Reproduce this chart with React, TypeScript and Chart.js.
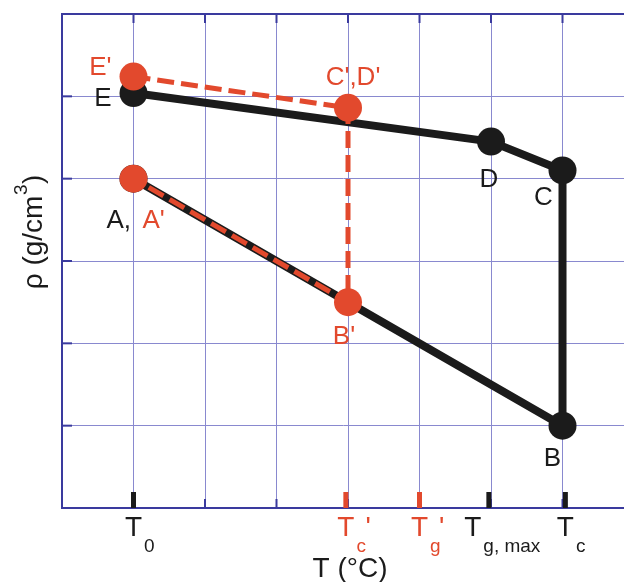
import React, { useEffect, useRef } from "react";
import { Chart, registerables } from "chart.js";

Chart.register(...registerables);

// ---- data ----
const pathT = [0, 5, 6, 6, 0];
const pathRho = [5.04, 4.45, 4.1, 1.0, 4.0];
const pathLabels = ["E", "D", "C", "B", "A,"];

const primeT = [0, 3, 3, 0];
const primeRho = [5.24, 4.86, 2.5, 4.0];
const primeLabels = ["E'", "C',D'", "B'", "A'"];

const tickValues = [0, 2.97, 4.0, 4.97, 6.04];
const tickSubs = ["0", "c", "g", "g, max", "c"];
const tickPrimes = ["", "'", "'", "", ""];
const tickIsPrime = [false, true, true, false, false];

const xTitle = "T (°C)";
const yTitleMain = "ρ (g/cm";
const yTitleSup = "3";
const yTitleEnd = ")";

// ---- style ----
const RED = "#e2492d";
const BLACK = "#1b1b1b";
const GRID = "#8989cf";
const BORDER = "#3a3a9e";
const FONT = "'Liberation Sans', Arial, Helvetica, sans-serif";

const labelStyle: Record<string, { dx: number; dy: number; align: CanvasTextAlign }> = {
  "E": { dx: -22, dy: 4, align: "right" },
  "D": { dx: -2, dy: 36, align: "center" },
  "C": { dx: -19, dy: 25, align: "center" },
  "B": { dx: -10, dy: 31, align: "center" },
  "A,": { dx: -27, dy: 40, align: "left" },
  "E'": { dx: -22, dy: -11, align: "right" },
  "C',D'": { dx: 5, dy: -32, align: "center" },
  "B'": { dx: -4, dy: 33, align: "center" },
  "A'": { dx: 9, dy: 40, align: "left" },
};

function capText(
  ctx: CanvasRenderingContext2D,
  text: string,
  x: number,
  capCenterY: number,
  align: CanvasTextAlign,
  color: string,
  size: number
) {
  ctx.font = `${size}px ${FONT}`;
  ctx.fillStyle = color;
  ctx.textAlign = align;
  ctx.textBaseline = "alphabetic";
  ctx.fillText(text, x, capCenterY + 0.358 * size);
}

const decorPlugin = {
  id: "decor",
  beforeDatasetsDraw(chart: any) {
    const ctx: CanvasRenderingContext2D = chart.ctx;
    const { left, top, bottom } = chart.chartArea;
    const xs = chart.scales.x;
    const ys = chart.scales.y;
    ctx.save();
    ctx.strokeStyle = BORDER;
    ctx.lineWidth = 2;
    // minor inner ticks
    for (let v = 0; v <= 6; v++) {
      const px = xs.getPixelForValue(v);
      ctx.beginPath();
      ctx.moveTo(px, top);
      ctx.lineTo(px, top + 9);
      ctx.moveTo(px, bottom);
      ctx.lineTo(px, bottom - 9);
      ctx.stroke();
    }
    for (let v = 1; v <= 5; v++) {
      const py = ys.getPixelForValue(v);
      ctx.beginPath();
      ctx.moveTo(left, py);
      ctx.lineTo(left + 10, py);
      ctx.stroke();
    }
    // major ticks
    ctx.lineWidth = 5;
    tickValues.forEach((v, i) => {
      const px = xs.getPixelForValue(v);
      ctx.strokeStyle = tickIsPrime[i] ? RED : BLACK;
      ctx.beginPath();
      ctx.moveTo(px, bottom);
      ctx.lineTo(px, bottom - 16);
      ctx.stroke();
    });
    ctx.restore();
  },
  afterDatasetsDraw(chart: any) {
    const ctx: CanvasRenderingContext2D = chart.ctx;
    const { bottom } = chart.chartArea;
    const xs = chart.scales.x;
    const ys = chart.scales.y;
    ctx.save();

    // point labels
    const drawLabels = (ts: number[], rs: number[], labels: string[], color: string) => {
      labels.forEach((lab, i) => {
        if (!lab) return;
        const st = labelStyle[lab];
        const px = xs.getPixelForValue(ts[i]);
        const py = ys.getPixelForValue(rs[i]);
        capText(ctx, lab, px + st.dx, py + st.dy, st.align, color, 26);
      });
    };
    drawLabels(pathT, pathRho, pathLabels, BLACK);
    drawLabels(primeT, primeRho, primeLabels, RED);

    // x tick labels
    const mainSize = 28;
    const subSize = 19;
    const baseY = bottom + 28;
    tickValues.forEach((v, i) => {
      const color = tickIsPrime[i] ? RED : BLACK;
      const px = xs.getPixelForValue(v);
      ctx.font = `${subSize}px ${FONT}`;
      const subW = ctx.measureText(tickSubs[i]).width;
      const shift = subW > 20 ? -(subW - 20) / 2.3 : 0;
      ctx.font = `${mainSize}px ${FONT}`;
      const tW = ctx.measureText("T").width;
      const cx = px + shift;
      ctx.fillStyle = color;
      ctx.textAlign = "center";
      ctx.textBaseline = "alphabetic";
      ctx.fillText("T", cx, baseY);
      if (tickPrimes[i]) {
        ctx.textAlign = "left";
        ctx.fillText(tickPrimes[i], cx + tW / 2 + 11, baseY);
      }
      ctx.font = `${subSize}px ${FONT}`;
      ctx.textAlign = "left";
      ctx.fillText(tickSubs[i], cx + tW / 2 + 2, baseY + 16);
    });

    // x title
    ctx.font = `28px ${FONT}`;
    ctx.fillStyle = BLACK;
    ctx.textAlign = "center";
    ctx.fillText(xTitle, 350, bottom + 69);

    // y title (rotated)
    ctx.save();
    ctx.translate(42, 232);
    ctx.rotate(-Math.PI / 2);
    ctx.font = `28px ${FONT}`;
    const w1 = ctx.measureText(yTitleMain).width;
    const w3 = ctx.measureText(yTitleEnd).width;
    ctx.font = `19px ${FONT}`;
    const w2 = ctx.measureText(yTitleSup).width;
    let x0 = -(w1 + w2 + w3 + 1) / 2;
    ctx.textAlign = "left";
    ctx.fillStyle = BLACK;
    ctx.font = `28px ${FONT}`;
    ctx.fillText(yTitleMain, x0, 0);
    x0 += w1 + 0.5;
    ctx.font = `19px ${FONT}`;
    ctx.fillText(yTitleSup, x0, -15);
    x0 += w2 + 0.5;
    ctx.font = `28px ${FONT}`;
    ctx.fillText(yTitleEnd, x0, 0);
    ctx.restore();

    ctx.restore();
  },
};

export default function App() {
  const ref = useRef<HTMLCanvasElement | null>(null);
  useEffect(() => {
    if (!ref.current) return;
    const chart = new Chart(ref.current, {
      type: "line",
      data: {
        datasets: [
          {
            label: "primed",
            data: primeT.map((t, i) => ({ x: t, y: primeRho[i] })),
            borderColor: RED,
            backgroundColor: RED,
            borderWidth: 5,
            borderDash: [17, 7],
            pointRadius: 14,
            pointBorderWidth: 0,
            pointBackgroundColor: RED,
            tension: 0,
            order: 0,
          },
          {
            label: "path",
            data: pathT.map((t, i) => ({ x: t, y: pathRho[i] })),
            borderColor: BLACK,
            backgroundColor: BLACK,
            borderWidth: 8,
            borderJoinStyle: "round",
            pointRadius: 14,
            pointBorderWidth: 0,
            pointBackgroundColor: BLACK,
            tension: 0,
            order: 1,
          },
        ],
      },
      options: {
        animation: false,
        responsive: false,
        events: [],
        layout: { autoPadding: false, padding: { left: 62, top: 14, right: 0, bottom: 74 } },
        plugins: { legend: { display: false }, tooltip: { enabled: false } },
        scales: {
          x: {
            type: "linear",
            min: -1,
            max: 6.86,
            ticks: { display: false, stepSize: 1, includeBounds: false },
            grid: { color: GRID, lineWidth: 1, drawTicks: false },
            border: { display: true, color: BORDER, width: 2 },
            afterFit: (s: any) => {
              s.height = 0;
            },
          },
          y: {
            type: "linear",
            min: 0,
            max: 6,
            ticks: { display: false, stepSize: 1 },
            grid: {
              color: (c: any) => (c.tick && c.tick.value === 6 ? BORDER : GRID),
              lineWidth: (c: any) => (c.tick && c.tick.value === 6 ? 2 : 1),
              drawTicks: false,
            },
            border: { display: true, color: BORDER, width: 2 },
            afterFit: (s: any) => {
              s.width = 0;
            },
          },
        },
      },
      plugins: [decorPlugin],
    } as any);
    return () => chart.destroy();
  }, []);
  return (
    <div style={{ position: "absolute", left: 0, top: 0, width: 624, height: 582, background: "#fff" }}>
      <canvas ref={ref} width={624} height={582} />
    </div>
  );
}
